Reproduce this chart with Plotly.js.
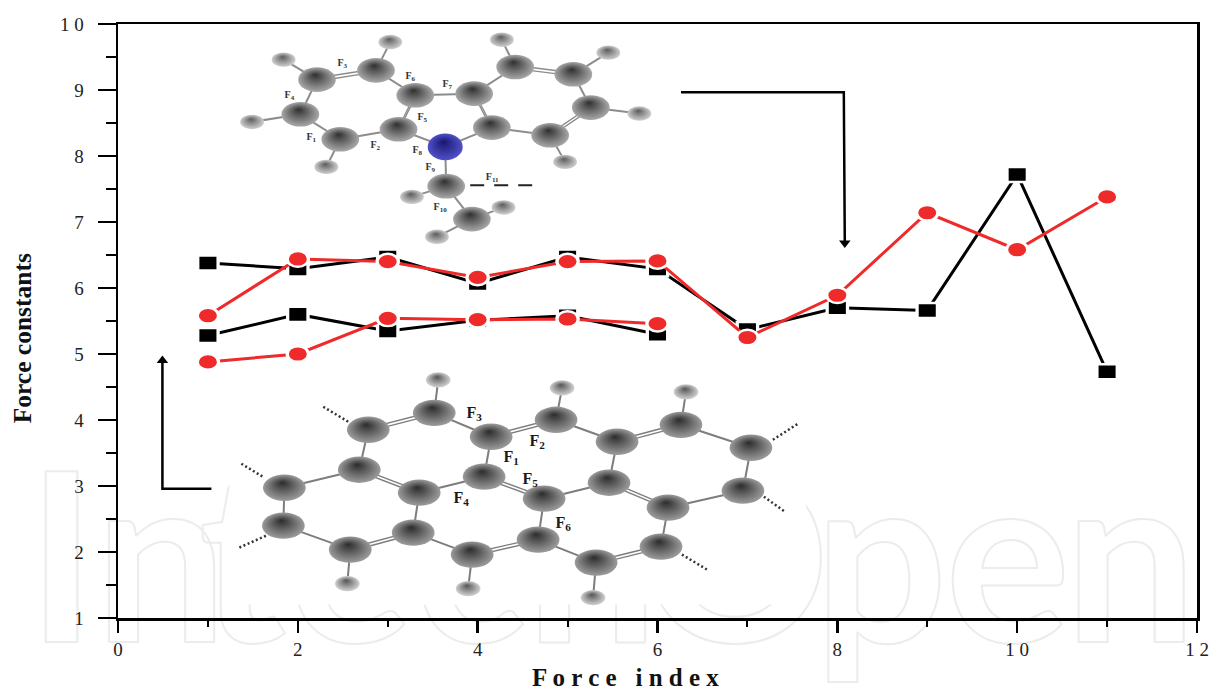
<!DOCTYPE html>
<html><head><meta charset="utf-8">
<script src="https://cdn.plot.ly/plotly-3.0.1.min.js"></script>
<style>html,body{margin:0;padding:0;background:#fff}#chart{width:1211px;height:688px}</style>
</head><body><div id="chart"></div>
<script>
// ---- chart series ----
const forceIndex = [1,2,3,4,5,6,7,8,9,10,11];
const blackLong = [6.38,6.29,6.47,6.07,6.47,6.29,5.37,5.70,5.66,7.72,4.73];
const redLong   = [5.58,6.44,6.40,6.16,6.40,6.41,5.25,5.89,7.14,6.58,7.38];
const shortIndex = [1,2,3,4,5,6];
const blackShort = [5.28,5.60,5.35,5.51,5.58,5.30];
const redShort   = [4.88,5.00,5.54,5.52,5.53,5.46];

// ---- axis ticks ----
const xTickVals = [0,2,4,6,8,10,12];
const xTickText = ['0','2','4','6','8','1 0','1 2'];
const yTickVals = [1,2,3,4,5,6,7,8,9,10];
const yTickText = ['1','2','3','4','5','6','7','8','9','1 0'];

// ---- upper molecule sketch ----
const topCx = [2.213,2.869,2.028,2.472,3.12,3.306,3.961,4.417,5.064,5.258,4.806,4.158,3.65,3.936];
const topCy = [9.157,9.298,8.632,8.254,8.405,8.92,8.945,9.348,9.238,8.734,8.315,8.431,7.543,7.044];
const topNx = [3.639];
const topNy = [8.138];
const topHx = [3.028,1.842,1.491,2.317,4.269,5.453,5.798,4.972,3.269,4.287,3.547];
const topHy = [9.726,9.46,8.516,7.835,9.762,9.566,8.643,7.911,7.381,7.221,6.776];
const topSingle = [[0,2],[2,3],[3,4],[1,5],[5,6],[6,7],[8,9],[10,11],[11,14],[4,14],[14,12],[12,13],
  [1,15],[0,16],[2,17],[3,18],[7,19],[8,20],[9,21],[10,22],[12,23],[13,24],[13,25]];
const topDouble = [[0,1],[4,5],[6,11],[7,8],[9,10]];
const topLabelText = ['F<sub>6</sub>','F<sub>3</sub>','F<sub>4</sub>','F<sub>1</sub>','F<sub>2</sub>','F<sub>7</sub>','F<sub>5</sub>','F<sub>8</sub>','F<sub>9</sub>','F<sub>10</sub>','F<sub>11</sub>'];
const topLabelX = [3.25,2.494,1.906,2.15,2.861,3.661,3.383,3.328,3.472,3.583,4.161];
const topLabelY = [9.207,9.404,8.92,8.284,8.163,9.086,8.587,8.088,7.83,7.225,7.679];
const topDashX = [3.917,4.672];
const topDashY = [7.558,7.558];

// ---- lower molecule sketch ----
const lowCx = [2.783,3.517,4.15,4.872,5.55,6.261,7.039,2.683,1.85,1.839,2.583,3.283,3.939,4.672,5.317,6.039,6.95,6.117,5.461,4.739,4.072,3.35];
const lowCy = [3.852,4.109,3.746,4.003,3.67,3.927,3.579,3.247,2.974,2.399,2.036,2.293,1.961,2.188,1.84,2.082,2.929,2.672,3.05,2.808,3.141,2.899];
const lowHx = [3.561,4.939,6.317,2.55,3.894,5.283];
const lowHy = [4.608,4.487,4.427,1.522,1.446,1.31];
const lowSingle = [[1,2],[3,4],[5,6],[0,7],[7,8],[8,9],[9,10],[11,12],[13,14],[15,17],[17,16],[16,6],[21,20],[19,18],[2,20],[4,18],[21,11],[19,13],
  [1,22],[3,23],[5,24],[10,25],[12,26],[14,27]];
const lowDouble = [[0,1],[2,3],[4,5],[10,11],[12,13],[14,15],[7,21],[20,19],[18,17]];
const lowStubX = [2.283,2.561,null,1.372,1.628,null,1.35,1.672,null,7.283,7.561,null,7.183,7.417,null,6.272,6.55];
const lowStubY = [4.2,3.973,null,3.337,3.126,null,2.067,2.263,null,3.7,3.943,null,2.838,2.611,null,1.961,1.734];
const lowLabelText = ['F<sub>3</sub>','F<sub>2</sub>','F<sub>1</sub>','F<sub>5</sub>','F<sub>4</sub>','F<sub>6</sub>'];
const lowLabelX = [3.961,4.661,4.372,4.583,3.817,4.95];
const lowLabelY = [4.094,3.67,3.428,3.095,2.808,2.43];
const maskX = [1.239,7.65,7.65,1.239,1.239];
const maskY = [1.204,1.204,4.911,4.911,1.204];

// ---- pointer arrows ----
const arrowTopX = [6.261,8.072,8.083];
const arrowTopY = [8.965,8.965,6.68];
const arrowLowX = [1.039,0.494,0.494];
const arrowLowY = [2.959,2.959,4.9];

// ---- watermark ----
const wmLetters = ['In','t','e','c','h','O','p','e','n'];
const wmX = [0.1,1.383,2.583,3.917,5.272,6.861,8.483,9.894,11.261];
const wmY = [1.53,1.53,1.53,1.53,1.53,1.53,1.53,1.53,1.53];

const serif = '"Liberation Serif", serif';

function bondLines(xs, ys, pairs, off){
  const x=[], y=[];
  pairs.forEach(p=>{ x.push(xs[p[0]],xs[p[1]],null); y.push(ys[p[0]]+off,ys[p[1]]+off,null); });
  return {x,y};
}
const topX = topCx.concat(topNx, topHx), topY = topCy.concat(topNy, topHy);
const lowX = lowCx.concat(lowHx), lowY = lowCy.concat(lowHy);

function bondTraces(xs, ys, single, dbl, col){
  const s = bondLines(xs,ys,single,0), a = bondLines(xs,ys,dbl,0.024), b = bondLines(xs,ys,dbl,-0.024);
  return [
    {x:s.x,y:s.y,mode:'lines',line:{color:col,width:2}},
    {x:a.x,y:a.y,mode:'lines',line:{color:col,width:1.4}},
    {x:b.x,y:b.y,mode:'lines',line:{color:col,width:1.4}}
  ];
}
function atoms(x,y,size,c0,c1,sx,sy){
  return {x,y,mode:'markers',meta:{sx,sy,ball:true},
    marker:{size,color:c0,line:{width:0},gradient:{type:'radial',color:c1}}};
}
function series(x,y,color,symbol,size,sx,sy,w){
  return {x,y,mode:'lines+markers',meta:{sx,sy},line:{color,width:w},
    marker:{symbol,size,color,line:{color:'#ffffff',width:3}}};
}

const traces = [
  {x:wmX,y:wmY,mode:'text',text:wmLetters,textposition:'middle center',cliponaxis:false,meta:{wm:true},
   textfont:{family:'Lato, "Open Sans", sans-serif',size:235,color:'#eeeeee',weight:700}},
  {x:maskX,y:maskY,mode:'lines',fill:'toself',fillcolor:'#ffffff',line:{width:0,color:'#ffffff'}},
  ...bondTraces(topX,topY,topSingle,topDouble,'#8c8c8c'),
  ...bondTraces(lowX,lowY,lowSingle,lowDouble,'#7d7d7d'),
  {x:lowStubX,y:lowStubY,mode:'lines',line:{color:'#333333',width:2.5,dash:'2px,2.5px'}},
  {x:topDashX,y:topDashY,mode:'lines',line:{color:'#222222',width:2,dash:'14px,10px'}},
  atoms(topHx,topHy,17,'#cfcfcf','#5c5c5c',1.4,0.85),
  atoms(lowHx,lowHy,17,'#d2d2d2','#555555',1.45,0.9),
  atoms(topCx,topCy,29,'#a8a8a8','#303030',1.3,0.85),
  atoms(lowCx,lowCy,31,'#9c9c9c','#2c2c2c',1.38,0.85),
  atoms(topNx,topNy,28,'#5050c8','#17176e',1.25,0.95),
  {x:topLabelX,y:topLabelY,mode:'text',text:topLabelText,textposition:'middle center',
   textfont:{family:serif,size:10,color:'#333333',weight:700}},
  {x:lowLabelX,y:lowLabelY,mode:'text',text:lowLabelText,textposition:'middle center',
   textfont:{family:serif,size:16,color:'#1a1a1a',weight:700}},
  {x:arrowTopX,y:arrowTopY,mode:'lines',line:{color:'#000',width:2.5}},
  {x:arrowTopX.slice(2),y:arrowTopY.slice(2),mode:'markers',marker:{symbol:'triangle-down',size:10,color:'#000'}},
  {x:arrowLowX,y:arrowLowY,mode:'lines',line:{color:'#000',width:2.5}},
  {x:arrowLowX.slice(2),y:arrowLowY.slice(2),mode:'markers',marker:{symbol:'triangle-up',size:10,color:'#000'}},
  series(forceIndex,blackLong,'#000000','square',18.5,1.1,0.81,3),
  series(shortIndex,blackShort,'#000000','square',18.5,1.1,0.81,3),
  series(forceIndex,redLong,'#ee2a2a','circle',19.5,1.09,0.8,3),
  series(shortIndex,redShort,'#ee2a2a','circle',19.5,1.09,0.8,3)
];

const layout = {
  width:1211,height:688,showlegend:false,hovermode:false,
  paper_bgcolor:'#ffffff',plot_bgcolor:'rgba(0,0,0,0)',
  margin:{l:117.5,r:13.5,t:24,b:69.5,pad:0},
  font:{family:serif,color:'#222222'},
  annotations:[
    {text:'<b>F o r c e   i n d e x</b>',xref:'paper',yref:'paper',x:0.47,y:-0.1,yanchor:'middle',xanchor:'center',showarrow:false,
     font:{family:serif,size:25,color:'#111'}},
    {text:'<b>Force constants</b>',xref:'paper',yref:'paper',x:-0.0885,y:0.47,xanchor:'center',yanchor:'middle',textangle:-90,showarrow:false,
     font:{family:serif,size:25.5,color:'#111'}}
  ],
  xaxis:{range:[0,12],autorange:false,zeroline:false,showgrid:false,tickmode:'array',tickvals:xTickVals,ticktext:xTickText,
    ticks:'outside',ticklen:12,tickwidth:2.5,tickcolor:'#000',showline:true,linecolor:'#000',linewidth:2.5,mirror:true,
    minor:{dtick:1,ticks:'outside',ticklen:6,tickwidth:2,tickcolor:'#000'},
    tickfont:{family:serif,size:19,color:'#222'},ticklabelstandoff:1},
  yaxis:{range:[1,10],autorange:false,zeroline:false,showgrid:false,tickmode:'array',tickvals:yTickVals,ticktext:yTickText,
    ticks:'outside',ticklen:18,tickwidth:2,tickcolor:'#000',showline:true,linecolor:'#000',linewidth:2.5,mirror:true,
    minor:{dtick:0.5,ticks:'outside',ticklen:10,tickwidth:1.5,tickcolor:'#000'},
    tickfont:{family:serif,size:19,color:'#222'},ticklabelstandoff:10}
};

Plotly.newPlot('chart',traces,layout,{staticPlot:true,displayModeBar:false}).then(gd=>{
  const groups = gd.querySelectorAll('.scatterlayer .trace');
  groups.forEach((g,i)=>{
    const m = gd.data[i].meta;
    if(!m) return;
    if(m.wm){
      g.querySelectorAll('.textpoint text').forEach(t=>{
        t.style.fill='#ffffff'; t.style.fillOpacity='0';
        t.style.stroke='#ececec'; t.style.strokeWidth='2px'; t.style.strokeLinejoin='round';
      });
      return;
    }
    g.querySelectorAll('.points path').forEach(p=>{
      const tr = p.getAttribute('transform')||'';
      p.setAttribute('transform', tr+' scale('+m.sx+','+m.sy+')');
    });
  });
  document.querySelectorAll('radialGradient').forEach(r=>{
    r.setAttribute('fx','0.45'); r.setAttribute('fy','0.3');
  });
});
</script>
</body></html>
